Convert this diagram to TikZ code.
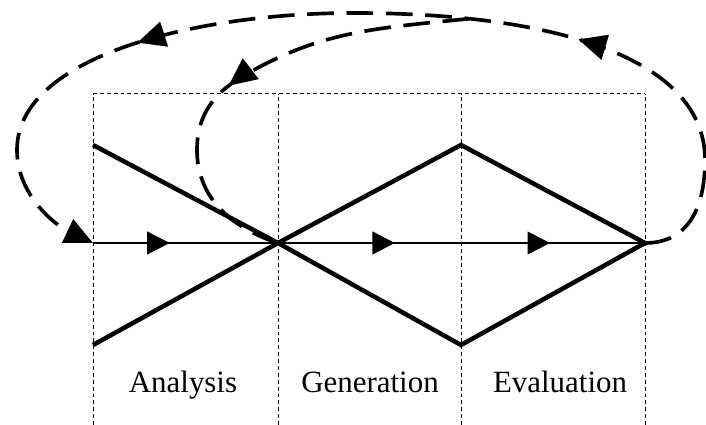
\documentclass[tikz,border=0pt]{standalone}
\usepackage{fontspec}
\setmainfont{Liberation Serif}
\usetikzlibrary{arrows.meta,decorations.markings}

\newcommand{\headtip}{\arrow{Triangle[length=16pt,width=16pt]}}
\newcommand{\looptip}{\arrow{Triangle[length=20pt,width=18pt]}}

\begin{document}
\begin{tikzpicture}[x=0.25mm,y=0.25mm,
frame/.style={line width=0.7pt,dash pattern=on 2.8pt off 2.1pt},
phase/.style={line width=3.2pt,line join=miter},
flow/.style={line width=1.8pt},
loop/.style={line width=2.6pt,dash pattern=on 19pt off 9pt},
stage/.style={font=\fontsize{22}{26}\selectfont,anchor=base}]
\useasboundingbox (0,0) rectangle (706,425);

% stage columns
\foreach \x in {93,278,461,645}
	\draw[frame] (\x,0) -- (\x,331);
\draw[frame] (93,331) -- (645,331);

\coordinate (a1) at (93,280);
\coordinate (a2) at (93,80);
\coordinate (s) at (93,182);
\coordinate (c) at (278,182);
\coordinate (g1) at (461,280);
\coordinate (g2) at (461,80);
\coordinate (e) at (645,182);

\node[stage] (ana) at (183,32) {Analysis};
\node[stage] (gen) at (370,32) {Generation};
\node[stage] (eva) at (560,32) {Evaluation};

% diverge / converge
\draw[phase] (a1) -- (c) -- (g2) -- (e);
\draw[phase] (a2) -- (c) -- (g1) -- (e);

% main flow
\draw[flow,decoration={markings,
	mark=at position 0.139 with {\headtip},
	mark=at position 0.547 with {\headtip},
	mark=at position 0.828 with {\headtip}},postaction={decorate}] (s) -- (e);

% feedback loops
\draw[loop,-{Triangle[length=20pt,width=18pt]},decoration={markings,
	mark=at position 0.29 with {\looptip},
	mark=at position 0.715 with {\looptip}},postaction={decorate}]
	(e) .. controls (690,182) and (705,220) .. (705,265)
	.. controls (705,365) and (560,412) .. coordinate[pos=0.8] (split) (353,412)
	.. controls (200,412) and (17,370) .. (17,275)
	.. controls (17,230) and (55,200) .. (s);
\draw[loop,decoration={markings,
	mark=at position 0.55 with {\looptip}},postaction={decorate}]
	(split) to[out=186,in=31] (240,347) to[out=211,in=90] (197,275)
	to[out=-90,in=162] (c);
\end{tikzpicture}
\end{document}
